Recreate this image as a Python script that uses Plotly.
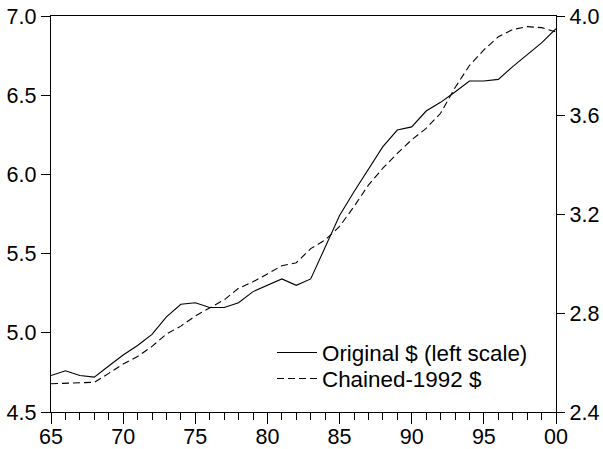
import plotly.graph_objects as go

years = list(range(1965, 2001))
original = [4.73, 4.76, 4.73, 4.72, 4.79, 4.86, 4.92, 4.99, 5.10, 5.18,
            5.19, 5.16, 5.16, 5.19, 5.26, 5.30, 5.34, 5.30, 5.34, 5.54,
            5.74, 5.89, 6.03, 6.175, 6.28, 6.30, 6.40, 6.455, 6.52, 6.59,
            6.59, 6.60, 6.68, 6.755, 6.83, 6.92]
chained = [2.514, 2.516, 2.517, 2.52, 2.556, 2.594, 2.624, 2.665, 2.715, 2.747,
           2.788, 2.819, 2.853, 2.90, 2.926, 2.958, 2.991, 3.003, 3.06, 3.095,
           3.15, 3.23, 3.317, 3.385, 3.445, 3.50, 3.546, 3.607, 3.71, 3.80,
           3.863, 3.916, 3.945, 3.957, 3.953, 3.935]
xtick_vals = [1965, 1970, 1975, 1980, 1985, 1990, 1995, 2000]
xtick_text = ["65", "70", "75", "80", "85", "90", "95", "00"]
left_ticks = [4.5, 5.0, 5.5, 6.0, 6.5, 7.0]
right_ticks = [2.4, 2.8, 3.2, 3.6, 4.0]

FONT = "Liberation Sans, Arial, sans-serif"
FS = 22.4
TFS = 21.5

fig = go.Figure()
fig.add_trace(go.Scatter(x=years, y=original, mode="lines",
                         name="Original $ (left scale)", legend="legend",
                         line=dict(color="black", width=1.1)))
fig.add_trace(go.Scatter(x=years, y=chained, mode="lines", yaxis="y2",
                         name="Chained-1992 $", legend="legend2",
                         line=dict(color="black", width=1.1, dash="7px,4px")))

leg_common = dict(xanchor="left", yanchor="middle", bgcolor="rgba(0,0,0,0)",
                  borderwidth=0, font=dict(size=FS, family=FONT, color="black"),
                  itemwidth=40)

fig.update_layout(
    width=603, height=449,
    margin=dict(l=51, r=47, t=16, b=37, autoexpand=False),
    paper_bgcolor="white", plot_bgcolor="white",
    font=dict(family=FONT, size=FS, color="black"),
    showlegend=True,
    legend=dict(x=0.4376, y=0.149, **leg_common),
    legend2=dict(x=0.4376, y=0.0834, **leg_common),
    xaxis=dict(range=[1965, 2000], tickvals=xtick_vals, ticktext=xtick_text,
               automargin=False, ticklabelstandoff=-6,
               tickfont=dict(size=TFS, family=FONT, color="black"),
               showgrid=False, zeroline=False, showline=True, linecolor="black",
               linewidth=1.4, mirror=True, ticks="outside", ticklen=11,
               tickwidth=1.2, tickcolor="black",
               minor=dict(dtick=1, tick0=1965, ticks="outside", ticklen=7,
                          tickwidth=1, tickcolor="black", showgrid=False)),
    yaxis=dict(range=[4.5, 7.0], tickvals=left_ticks,
               ticktext=[f"{v:.1f}" for v in left_ticks], automargin=False,
               tickfont=dict(size=TFS, family=FONT, color="black"),
               showgrid=False, zeroline=False, showline=True, linecolor="black",
               linewidth=1.4, ticks="outside", ticklen=9, tickwidth=1.2,
               tickcolor="black"),
    yaxis2=dict(range=[2.4, 4.0], tickvals=right_ticks,
                ticktext=[f"{v:.1f}" for v in right_ticks], automargin=False,
                tickfont=dict(size=TFS, family=FONT, color="black"),
                overlaying="y", side="right",
                showgrid=False, zeroline=False, showline=True, linecolor="black",
                linewidth=1.4, ticks="outside", ticklen=8, tickwidth=1.2,
                tickcolor="black"),
)

fig.write_html("out.html", config={"displayModeBar": False},
               post_script="document.body.style.margin='0';document.body.style.overflow='hidden';")
